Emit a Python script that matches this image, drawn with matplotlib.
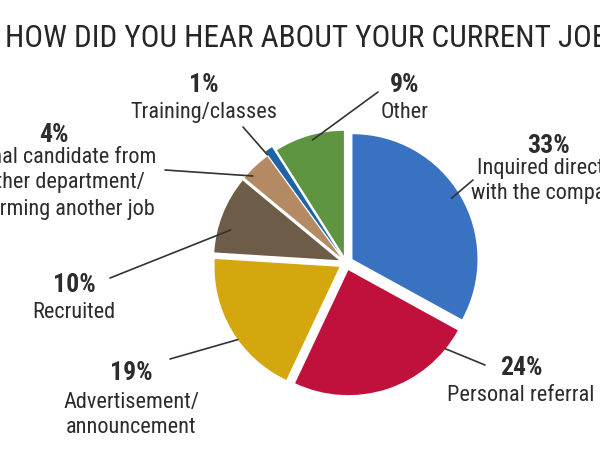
import numpy as np
import matplotlib
matplotlib.use("Agg")
import matplotlib.pyplot as plt

plt.rcParams["font.family"] = ["Roboto Condensed", "Liberation Sans", "DejaVu Sans"]

TITULO = "HOW DID YOU HEAR ABOUT YOUR CURRENT JOB?"

categorias = [
    "Inquired directly\nwith the company",
    "Personal referral",
    "Advertisement/\nannouncement",
    "Recruited",
    "Internal candidate from\nanother department/\nperforming another job",
    "Training/classes",
    "Other",
]
percentuais = [33, 24, 19, 10, 4, 1, 9]

cores = ["#3a72c2", "#c0113c", "#d5a70f", "#6c5c48", "#b48a64", "#1c64a6", "#5f9541"]
explode = [0.06, 0.06, 0.06, 0.06, 0.06, 0.1, 0.06]

# layout em pixels da imagem (y para baixo)
# (x do texto, baseline do %, baseline da ultima linha, fim da linha x, y,
#  ajuste do angulo, fracao do raio onde a linha toca a fatia)
layout = [
    (548, 153, 199, 473, 180, 1, 0.93),
    (521, 375, 401, 485, 365, 33, 1.0),
    (131, 380, 433, 170, 359, 5, 1.0),
    (74, 292, 318, 110, 278, 6, 0.9),
    (54, 142, 215, 165, 170, 4, 0.96),
    (204, 92, 118, 243, 127, 2, 0.97),
    (405, 92, 118, 378, 92, -1, 0.96),
]

CENTRO = (346, 263)
RAIO = 125
COR_TEXTO = "#2c2c2c"


def y_img(y):
    return 450 - y


fig = plt.figure(figsize=(6, 4.5), dpi=100)
ax = fig.add_axes([0, 0, 1, 1])

wedges, _ = ax.pie(
    percentuais,
    colors=cores,
    explode=[e * RAIO for e in explode],
    startangle=90,
    counterclock=False,
    radius=RAIO,
    center=(CENTRO[0], y_img(CENTRO[1])),
    wedgeprops=dict(linewidth=0),
)

for w, nome, pct, lay in zip(wedges, categorias, percentuais, layout):
    tx, y_pct, y_lab, lx, ly, dang, frac = lay
    ax.text(tx, y_img(y_pct), f"{pct}%", ha="center", va="baseline",
            fontsize=18.5, fontweight="bold", color=COR_TEXTO)
    ax.text(tx, y_img(y_lab), nome, ha="center", va="baseline",
            fontsize=16, color=COR_TEXTO, linespacing=1.28)

    ang = np.deg2rad((w.theta1 + w.theta2) / 2 + dang)
    inicio = (w.center[0] + frac * w.r * np.cos(ang),
              w.center[1] + frac * w.r * np.sin(ang))
    ax.annotate("", xy=inicio, xytext=(lx, y_img(ly)),
                arrowprops=dict(arrowstyle="-", color="#333333", lw=1.2,
                                shrinkA=0, shrinkB=0))

ax.text(5, y_img(47), TITULO, ha="left", va="baseline",
        fontsize=22.5, color="#262626")

ax.set_xlim(0, 600)
ax.set_ylim(0, 450)
ax.set_aspect("equal")
ax.axis("off")

fig.savefig("out.png", dpi=100)
plt.close(fig)
